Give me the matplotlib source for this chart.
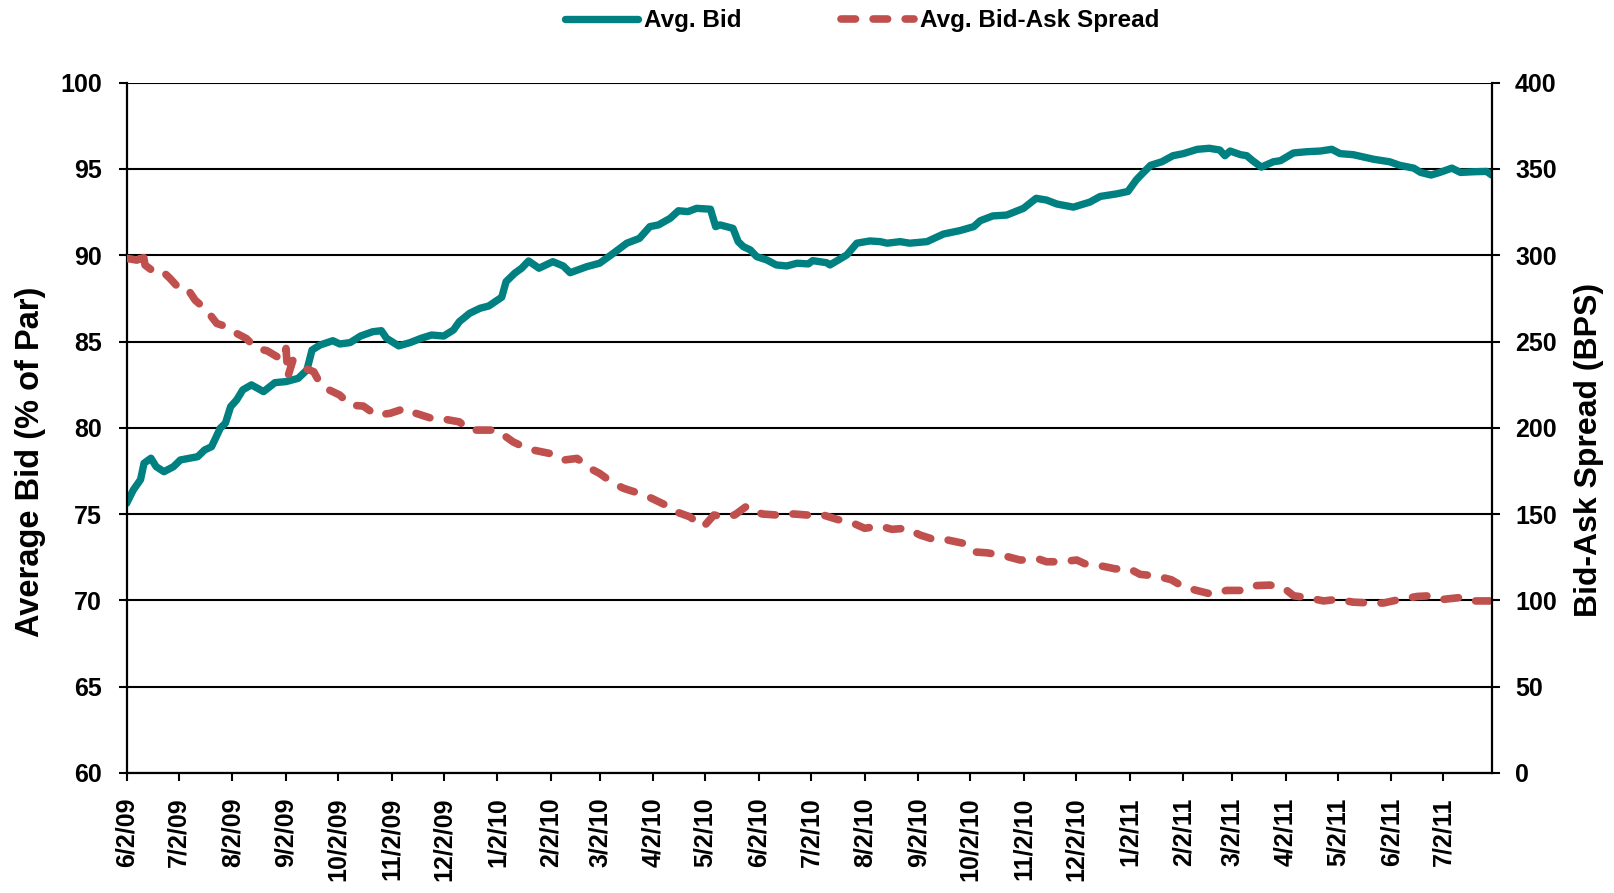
import matplotlib
matplotlib.use("Agg")
import matplotlib.pyplot as plt
import numpy as np
import pandas as pd

plt.rcParams['font.family'] = ['Liberation Sans', 'DejaVu Sans']
plt.rcParams['font.weight'] = 'bold'

# ---------------- data (days since 6/2/2009) ----------------
start_date = "2009-06-02"
end_day = 788

bid_days = [0, 3.8, 8, 10, 14, 17, 21.5, 27, 31, 41, 45, 49, 54, 57, 60, 63.5, 67, 72, 79, 85.6,
            92, 99, 104, 107, 111.6, 119, 123, 129, 135, 142, 147, 150, 157, 163.6, 170, 176, 183,
            188.6, 192, 198, 204, 209, 216.5, 219, 224, 228, 232, 238, 246, 252, 256, 265.6, 273,
            281, 288.7, 296, 302, 307, 313.7, 318.5, 324, 329, 337, 340, 342.5, 350, 353, 356, 360,
            363.7, 369.5, 375, 381, 387, 393.5, 396, 404, 406, 415.7, 421.5, 429, 435, 439, 446.5,
            452, 462, 471.5, 481, 489, 492.7, 500, 508, 517.7, 525, 531, 537, 546.5, 556, 562,
            571.6, 578, 583, 591, 597.6, 604, 610, 618, 625, 631, 634, 637, 643, 646.6, 650, 655,
            662, 666, 673.6, 681, 689, 695.7, 700.5, 708, 720, 729, 735, 743, 747, 753, 758, 765,
            770, 777.5, 785, 788]
avg_bid = [75.63, 76.4, 77.0, 77.95, 78.24, 77.75, 77.46, 77.75, 78.14, 78.33, 78.72, 78.91, 79.98,
           80.27, 81.23, 81.62, 82.2, 82.49, 82.1, 82.62, 82.68, 82.87, 83.35, 84.51, 84.8, 85.05,
           84.86, 84.94, 85.32, 85.57, 85.63, 85.19, 84.75, 84.94, 85.19, 85.38, 85.32, 85.67,
           86.15, 86.64, 86.93, 87.06, 87.57, 88.47, 88.96, 89.25, 89.67, 89.25, 89.63, 89.38,
           88.99, 89.34, 89.54, 90.12, 90.7, 90.98, 91.66, 91.76, 92.14, 92.58, 92.53, 92.72,
           92.67, 91.66, 91.76, 91.56, 90.79, 90.5, 90.31, 89.92, 89.73, 89.44, 89.38, 89.54,
           89.5, 89.69, 89.57, 89.44, 90.02, 90.7, 90.83, 90.79, 90.7, 90.79, 90.7, 90.79, 91.23,
           91.43, 91.66, 92.0, 92.28, 92.33, 92.72, 93.3, 93.2, 92.97, 92.79, 93.08, 93.41, 93.56,
           93.70, 94.39, 95.21, 95.42, 95.77, 95.89, 96.14, 96.2, 96.1, 95.77, 96.04, 95.83,
           95.77, 95.48, 95.11, 95.42, 95.48, 95.93, 96.0, 96.04, 96.14, 95.89, 95.83, 95.56,
           95.42, 95.21, 95.05, 94.8, 94.65, 94.8, 95.05, 94.8, 94.84, 94.86, 94.65]

spread_days = [0, 5.8, 8, 9, 10.6, 15, 20, 25, 29, 34.6, 39.5, 46, 52, 57.7, 63.5, 69, 75, 81, 90,
               92, 93, 96, 100, 103, 108, 111.6, 117, 123, 129, 136.6, 144, 152, 160.7, 167, 176,
               184, 192, 198, 206, 213.6, 223, 227, 234.8, 244, 252, 260, 267.5, 273, 281, 287,
               296, 303, 311, 317, 325, 333, 339, 344, 351, 358, 366.7, 375, 385, 392.5, 402, 410,
               419.5, 426, 435, 441.7, 450, 458, 465.7, 474, 483, 488, 496.5, 505, 515.8, 527,
               531, 539, 548.5, 553, 564, 570.6, 579, 585, 594.7, 603, 610, 617.6, 626, 635, 643,
               650, 660, 668, 673.6, 681, 691, 698.6, 708, 718, 725.5, 735, 745, 752.5, 760, 770,
               777.5, 787]
avg_spread = [298.2, 297.2, 298, 303.4, 294.3, 291, 291.4, 286.6, 282.2, 281.4, 274, 268.3, 260.5,
              258.6, 254.7, 251.8, 246, 244.7, 239.3, 246, 229.6, 239.3, 236.4, 234.5, 232.5,
              225.8, 221.9, 219, 213.2, 212.6, 207.4, 208.4, 211.3, 208.4, 205.5, 204.9, 203.5,
              198.7, 198.7, 198.7, 191.9, 190, 187.1, 185.2, 181.3, 182.3, 176.5, 173.6, 167.8,
              164.9, 162, 159.2, 155.3, 151.4, 148.5, 142.7, 149.5, 148.5, 149.5, 154.7, 150.1,
              149.5, 150.1, 149.5, 149.5, 147, 144.7, 141.8, 143.1, 141.2, 141.8, 137.9, 135.4,
              135, 133.1, 128.2, 127.6, 126.3, 123.4, 123.8, 122.4, 122.4, 123.4, 121.3, 119.7,
              118.3, 118.3, 115.1, 114.1, 112, 107.9, 105.8, 103.7, 105.8, 105.8, 108.5, 108.9,
              107.2, 102.7, 101.7, 99.7, 100.6, 99, 98.5, 98.5, 100.6, 102.3, 102.7, 100.6,
              101.7, 99.7, 99.7]

x_tick_labels = ["6/2/09", "7/2/09", "8/2/09", "9/2/09", "10/2/09", "11/2/09", "12/2/09",
                 "1/2/10", "2/2/10", "3/2/10", "4/2/10", "5/2/10", "6/2/10", "7/2/10", "8/2/10",
                 "9/2/10", "10/2/10", "11/2/10", "12/2/10", "1/2/11", "2/2/11", "3/2/11",
                 "4/2/11", "5/2/11", "6/2/11", "7/2/11"]
left_ticks = [60, 65, 70, 75, 80, 85, 90, 95, 100]
right_ticks = [0, 50, 100, 150, 200, 250, 300, 350, 400]

series_names = ["Avg. Bid", "Avg. Bid-Ask Spread"]
left_title = "Average Bid (% of Par)"
right_title = "Bid-Ask Spread (BPS)"

# ---------------- drawing ----------------
t0 = pd.Timestamp(start_date)
bid_x = t0 + pd.to_timedelta(np.array(bid_days), unit="D")
spr_x = t0 + pd.to_timedelta(np.array(spread_days), unit="D")
tick_dates = [t0 + pd.DateOffset(months=i) for i in range(len(x_tick_labels))]

TEAL = "#008080"
RED = "#C0504D"

fig = plt.figure(figsize=(16.14, 8.93), dpi=100)
ax = fig.add_axes([126.7 / 1614, 1 - 773 / 893, (1491.7 - 126.7) / 1614, (773 - 82.7) / 893])
ax2 = ax.twinx()

l1, = ax.plot(bid_x, avg_bid, color=TEAL, lw=5.3, solid_capstyle="round",
              solid_joinstyle="round", label=series_names[0])
l2, = ax2.plot(spr_x, avg_spread, color=RED, lw=5.5, linestyle=(0, (1.9, 2.3)),
               dash_capstyle="round", dash_joinstyle="round", label=series_names[1])

ax.set_xlim(t0, t0 + pd.Timedelta(days=end_day))
ax.set_ylim(60, 100)
ax2.set_ylim(0, 400)

ax.set_xticks(tick_dates)
ax.set_xticklabels(x_tick_labels, rotation=90, fontsize=18, fontweight="bold")
ax.set_yticks(left_ticks)
ax.set_yticklabels([str(v) for v in left_ticks], fontsize=18, fontweight="bold")
ax2.set_yticks(right_ticks)
ax2.set_yticklabels([str(v) for v in right_ticks], fontsize=18, fontweight="bold")

ax.yaxis.grid(True, color="black", lw=1.5)
ax.set_axisbelow(True)

for a in (ax, ax2):
    a.spines["top"].set_visible(False)
    for s in a.spines.values():
        s.set_linewidth(1.6)
        s.set_color("black")
ax.spines["right"].set_visible(False)
ax2.spines["left"].set_visible(False)
ax2.spines["bottom"].set_visible(False)

ax.tick_params(axis="y", direction="out", length=5.8, width=1.5, pad=12)
ax.tick_params(axis="x", direction="out", length=5.8, width=1.5, pad=12)
ax2.tick_params(axis="y", direction="out", length=5.8, width=1.5, pad=11)

fig.text(31 / 1614, 1 - 462 / 893, left_title, rotation=90, ha="center", va="center",
         fontsize=23.5, fontweight="bold")
fig.text(1589.5 / 1614, 1 - 450 / 893, right_title, rotation=90, ha="center", va="center",
         fontsize=23, fontweight="bold")

fig.legend([l1, l2], series_names, loc="center", bbox_to_anchor=(862.5 / 1614, 1 - 21 / 893),
           ncol=2, frameon=False, prop={"size": 17.5, "weight": "bold"}, handlelength=3.0,
           handletextpad=0.25, columnspacing=4.1, borderpad=0)

fig.savefig("out.png", dpi=100)
